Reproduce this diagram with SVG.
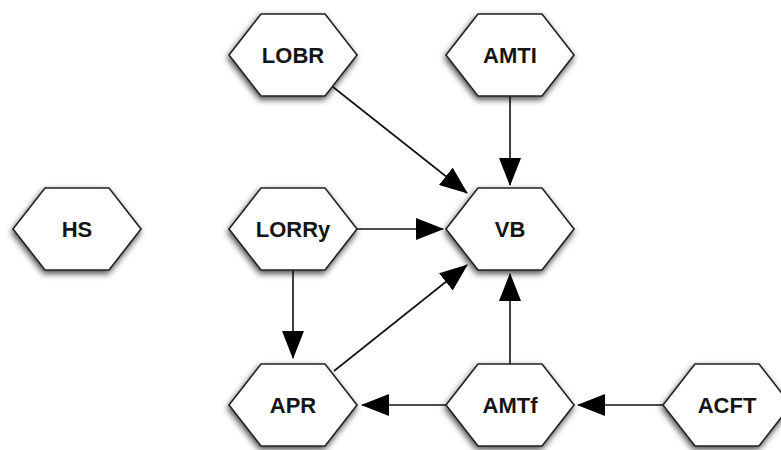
<svg xmlns="http://www.w3.org/2000/svg" width="781" height="450" viewBox="0 0 781 450">
<style>
.hex{fill:#fff;stroke:#222;stroke-width:1.6;filter:url(#sh)}
.lbl{font-family:"Liberation Sans",Arial,sans-serif;font-weight:bold;font-size:22px;fill:#151515;text-anchor:middle}
.edge{stroke:#111;stroke-width:1.6;fill:none;marker-end:url(#ah)}
</style>
<defs>
<filter id="sh" x="-30%" y="-30%" width="160%" height="170%">
<feDropShadow dx="-1" dy="3" stdDeviation="3" flood-color="#000" flood-opacity="0.7"/>
</filter>
<marker id="ah" viewBox="0 0 28 22" markerWidth="28" markerHeight="22" refX="27" refY="11" orient="auto" markerUnits="userSpaceOnUse">
<path d="M0,0 L28,11 L0,22 z" fill="#000"/>
</marker>
<polygon id="hx" points="-64,0 -32,-41 32,-41 64,0 32,41 -32,41"/>
</defs>
<g id="connectors">
<line class="edge" x1="333" y1="87" x2="467" y2="193"/>
<line class="edge" x1="510" y1="96" x2="510" y2="185"/>
<line class="edge" x1="357" y1="229" x2="443" y2="229"/>
<line class="edge" x1="293" y1="270" x2="293" y2="358"/>
<line class="edge" x1="334" y1="371" x2="467" y2="265"/>
<line class="edge" x1="510" y1="364" x2="510" y2="274"/>
<line class="edge" x1="448" y1="405" x2="362" y2="405"/>
<line class="edge" x1="663" y1="405" x2="578" y2="405"/>
</g>
<g id="HS"><use href="#hx" class="hex" x="77" y="229"/><text class="lbl" x="77" y="237">HS</text></g>
<g id="LOBR"><use href="#hx" class="hex" x="293" y="55"/><text class="lbl" x="293" y="63">LOBR</text></g>
<g id="AMTI"><use href="#hx" class="hex" x="510" y="55"/><text class="lbl" x="510" y="63">AMTI</text></g>
<g id="LORRy"><use href="#hx" class="hex" x="293" y="229"/><text class="lbl" x="293" y="237">LORRy</text></g>
<g id="VB"><use href="#hx" class="hex" x="510" y="229"/><text class="lbl" x="510" y="237">VB</text></g>
<g id="APR"><use href="#hx" class="hex" x="293" y="405"/><text class="lbl" x="293" y="413">APR</text></g>
<g id="AMTf"><use href="#hx" class="hex" x="510" y="405"/><text class="lbl" x="510" y="413">AMTf</text></g>
<g id="ACFT"><use href="#hx" class="hex" x="727" y="405"/><text class="lbl" x="727" y="413">ACFT</text></g>
</svg>
